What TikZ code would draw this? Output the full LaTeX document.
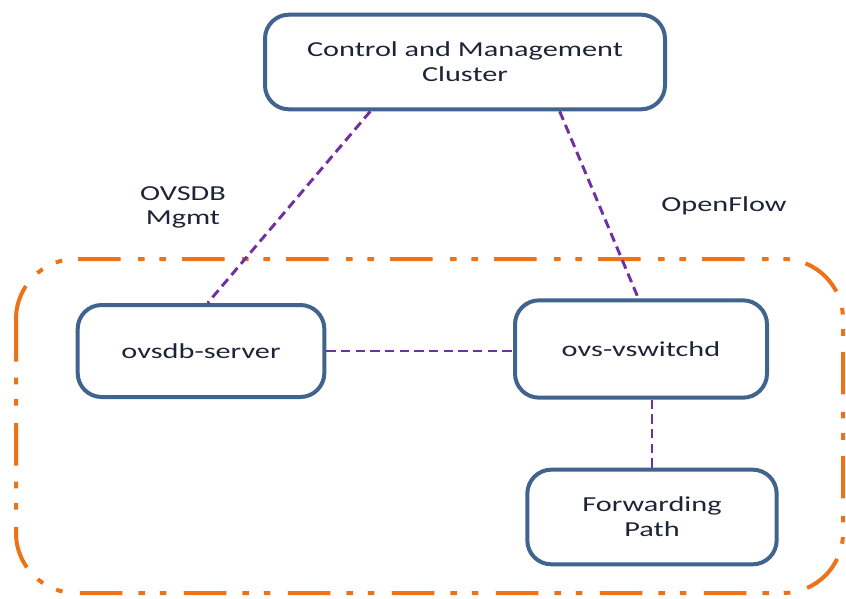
\documentclass[tikz,border=0pt]{standalone}
\usepackage{fontspec}
\setmainfont[FakeStretch=1.42]{Carlito}
\usepackage{tikz}
\usetikzlibrary{calc}

\definecolor{boxblue}{HTML}{41648F}
\definecolor{linkpurple}{HTML}{7030A0}
\definecolor{grouporange}{HTML}{EE7318}
\definecolor{textdark}{HTML}{1E2438}

\begin{document}
\begin{tikzpicture}[x=0.75pt,y=-0.75pt]
			\tikzstyle{box} = [draw=boxblue, line width=3pt, rounded corners=18pt, align=center, text=textdark, font=\fontsize{16}{19}\selectfont]
			\tikzstyle{link} = [draw=linkpurple, line width=2.2pt, dash pattern=on 7pt off 4pt]
			\tikzstyle{group} = [draw=grouporange, line width=3pt, rounded corners=45pt, dash pattern=on 32pt off 12pt on 5pt off 11pt on 5pt off 13pt]
			\tikzstyle{label} = [align=center, text=textdark, font=\fontsize{16}{18}\selectfont]
			\useasboundingbox (0,0) rectangle (846,599);
			% host frame
			\draw[group] (16,259) rectangle (843,593);
			\node[box, minimum width=300pt, minimum height=71pt] (ctrl) at (465,62) {Control and Management\\Cluster};
			\node[box, minimum width=185pt, minimum height=69pt] (ovsdb) at (201,351) {ovsdb-server};
			\node[box, minimum width=189pt, minimum height=73pt] (vswitchd) at (641,349) {ovs-vswitchd};
			\node[box, minimum width=187pt, minimum height=71pt] (fwd) at (652,517) {Forwarding\\Path};
			\node[label] (mgmt) at (183,207) {OVSDB\\Mgmt};
			\node[label] (of) at (724,206) {OpenFlow};
			% connectors
			\draw[link] ([xshift=-71pt]ctrl.south) -- ([xshift=5pt]ovsdb.north);
			\draw[link] ([xshift=71pt]ctrl.south) -- ([xshift=-2pt]vswitchd.north);
			\draw[link] (ovsdb.east) -- (ovsdb.east -| vswitchd.west);
			\draw[link] (fwd.north) -- (fwd.north |- vswitchd.south);
\end{tikzpicture}
\end{document}
